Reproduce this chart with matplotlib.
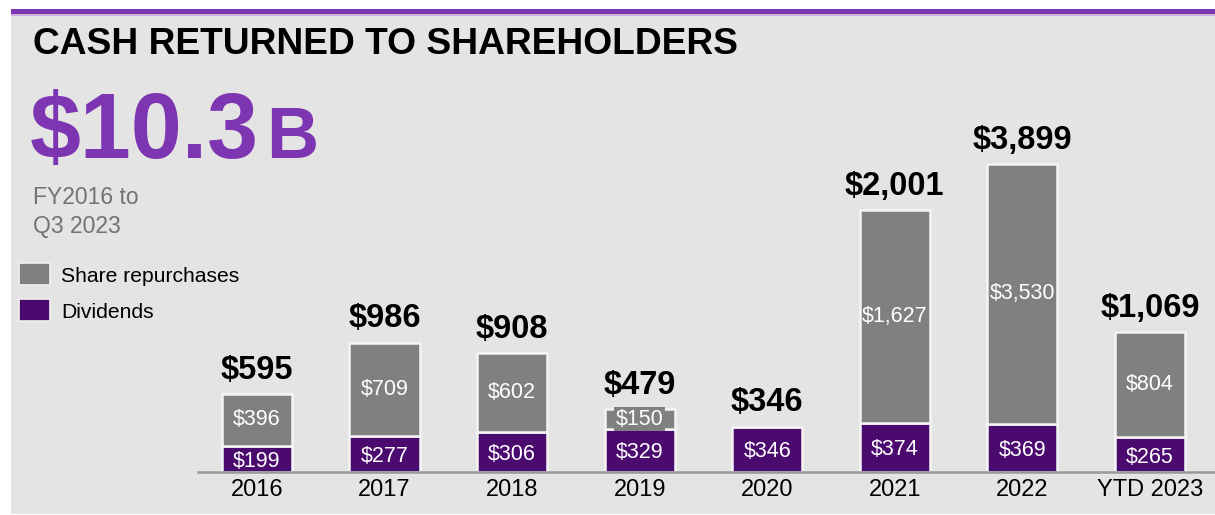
import numpy as np
import matplotlib
matplotlib.use('Agg')
import matplotlib.pyplot as plt
from matplotlib.patches import Rectangle

# datos (millones de $)
years = ['2016', '2017', '2018', '2019', '2020', '2021', '2022', 'YTD 2023']
dividends = [199, 277, 306, 329, 346, 374, 369, 265]
repurchases = [396, 709, 602, 150, 0, 1627, 3530, 804]
totals = [595, 986, 908, 479, 346, 2001, 3899, 1069]

# la barra de 2022 aparece truncada en el original
REP_CAP = 1980

PURPLE = '#7e35b2'
DARK_PURPLE = '#4b0a6e'
GREY = '#808080'
PANEL = '#e4e4e4'

plt.rcParams['font.family'] = ['Liberation Sans', 'DejaVu Sans']

W, H = 1215, 515
fig = plt.figure(figsize=(W / 100, H / 100), dpi=100, facecolor='white')

# panel gris y linea morada superior
fig.patches.append(Rectangle((11 / W, 1 / H), 1 - 11 / W, (H - 15) / H,
                             transform=fig.transFigure, facecolor=PANEL, edgecolor='none', zorder=0))
fig.patches.append(Rectangle((11 / W, (H - 14) / H), 1 - 11 / W, 5 / H,
                             transform=fig.transFigure, facecolor=PURPLE, edgecolor='none', zorder=1))
fig.patches.append(Rectangle((11 / W, (H - 15.5) / H), 1 - 11 / W, 1.5 / H,
                             transform=fig.transFigure, facecolor='#c9b3dc', edgecolor='none', zorder=1))

fig.text(33 / W, 1 - 45 / H, 'CASH RETURNED TO SHAREHOLDERS', fontsize=26.7,
         fontweight='bold', color='black', va='center', ha='left')
fig.text(30 / W, 1 - 158 / H, '$10.3', fontsize=66, fontweight='bold', color=PURPLE,
         va='baseline', ha='left')
fig.text(266 / W, 1 - 158 / H, 'B', fontsize=52, fontweight='bold', color=PURPLE,
         va='baseline', ha='left')
fig.text(33 / W, 1 - 212 / H, 'FY2016 to\nQ3 2023', fontsize=16.5, color='#737373',
         va='center', ha='left', linespacing=1.3)

# leyenda manual
for i, (lab, col) in enumerate([('Share repurchases', GREY), ('Dividends', DARK_PURPLE)]):
    yc = 274 + i * 36
    fig.patches.append(Rectangle((19 / W, 1 - (yc + 11) / H), 31 / W, 22 / H,
                                 transform=fig.transFigure, facecolor=col,
                                 edgecolor='#f2f2f2', linewidth=1.2, zorder=2))
    fig.text(61 / W, 1 - (yc + 2) / H, lab, fontsize=15.2, color='black', va='center', ha='left')

# grafico de barras
ax = fig.add_axes([198 / W, 43 / H, 1 - 198 / W, 322 / H])
ax.set_zorder(5)
ax.set_facecolor('none')
x = np.arange(len(years))
rep_shown = np.minimum(repurchases, REP_CAP)
width = 0.55
ax.bar(x, dividends, width, color=DARK_PURPLE, edgecolor='#f4f4f4', linewidth=1.8, zorder=2)
ax.bar(x, rep_shown, width, bottom=dividends, color=GREY, edgecolor='#f4f4f4',
       linewidth=1.8, zorder=2)

for i in range(len(years)):
    ax.text(x[i], dividends[i] / 2 - 18, f'${dividends[i]:,}', color='white',
            fontsize=15.5, ha='center', va='center', zorder=3)
    if repurchases[i] > 0:
        yr = dividends[i] + rep_shown[i] / 2
        kw = {}
        if repurchases[i] < 200:
            kw['bbox'] = dict(facecolor=GREY, edgecolor='none', pad=1)
        ax.text(x[i], yr, f'${repurchases[i]:,}', color='white', fontsize=15.5,
                ha='center', va='center', zorder=3, **kw)
    top = dividends[i] + rep_shown[i]
    ax.annotate(f'${totals[i]:,}', (x[i], top), xytext=(0, 6), textcoords='offset points',
                ha='center', va='bottom', fontsize=23.5, fontweight='bold', color='black')

ax.set_xlim(-0.462, 7.51)
ax.set_ylim(0, 2458)
ax.set_xticks(x)
ax.set_xticklabels(years, fontsize=17)
ax.tick_params(axis='x', length=0, pad=5)
ax.set_yticks([])
for s in ['top', 'right', 'left']:
    ax.spines[s].set_visible(False)
ax.spines['bottom'].set_color('#999999')
ax.spines['bottom'].set_linewidth(1.8)

fig.savefig('out.png', dpi=100, facecolor='white')
